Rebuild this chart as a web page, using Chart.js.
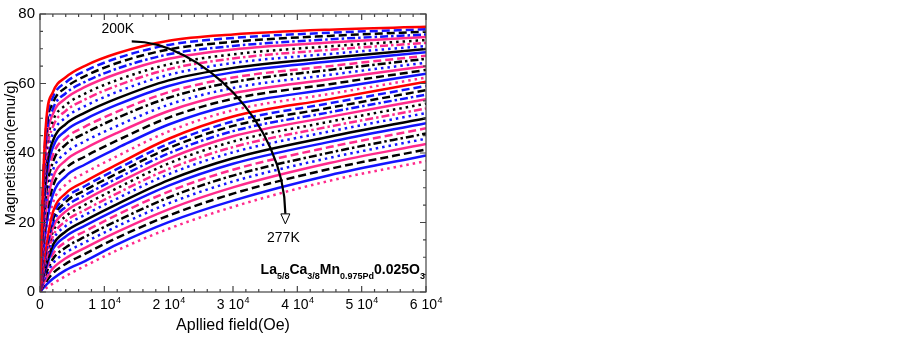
<!DOCTYPE html>
<html>
<head>
<meta charset="utf-8">
<script src="https://cdn.jsdelivr.net/npm/chart.js@4.4.1/dist/chart.umd.min.js"></script>
<style>
  html, body { margin: 0; padding: 0; background: #fff; }
</style>
</head>
<body>
<canvas id="chart" width="900" height="340"></canvas>
<script>
// applied field grid (Oe) shared by all isotherms
const FIELD_OE = [0, 500, 1000, 2000, 4000, 7000, 12000, 20000, 30000, 45000, 60000];

// magnetisation (emu/g), one isotherm per array, 200K at top -> 277K at bottom
const M01 = [0, 33.0, 50.0, 57.5, 61.8, 65.1, 68.7, 72.3, 74.1, 75.5, 76.3];
const M02 = [0, 31.9, 48.4, 56.0, 60.3, 63.6, 67.3, 71.1, 73.1, 74.6, 75.6];
const M03 = [0, 30.8, 46.8, 54.4, 58.8, 62.1, 65.9, 69.8, 72.0, 73.7, 74.9];
const M04 = [0, 29.5, 45.0, 52.7, 57.2, 60.5, 64.3, 68.4, 70.8, 72.7, 74.1];
const M05 = [0, 28.4, 43.4, 51.2, 55.7, 59.0, 62.8, 67.1, 69.8, 71.8, 73.4];
const M06 = [0, 27.0, 41.3, 49.2, 53.8, 57.1, 61.0, 65.5, 68.4, 70.7, 72.5];
const M07 = [0, 25.7, 39.5, 47.5, 52.1, 55.4, 59.4, 64.1, 67.2, 69.7, 71.7];
const M08 = [0, 24.3, 37.5, 45.5, 50.2, 53.5, 57.6, 62.5, 65.9, 68.5, 70.8];
const M09 = [0, 22.9, 35.4, 43.5, 48.3, 51.6, 55.7, 60.9, 64.5, 67.4, 69.9];
const M10 = [0, 21.4, 33.4, 41.6, 46.4, 49.7, 53.9, 59.3, 63.2, 66.3, 69.0];
const M11 = [0, 19.9, 31.1, 39.4, 44.3, 47.6, 51.9, 57.5, 61.7, 65.0, 68.0];
const M12 = [0, 18.4, 29.0, 37.4, 42.4, 45.7, 50.1, 55.9, 60.4, 63.9, 67.1];
const M13 = [0, 16.7, 26.5, 35.0, 40.0, 43.4, 47.8, 53.9, 58.7, 62.5, 66.0];
const M14 = [0, 15.1, 24.3, 32.8, 37.9, 41.3, 45.8, 52.1, 57.2, 61.2, 65.0];
const M15 = [0, 13.4, 21.7, 30.4, 35.6, 39.0, 43.6, 50.2, 55.6, 59.8, 63.9];
const M16 = [0, 11.6, 19.3, 28.0, 33.3, 36.7, 41.4, 48.2, 53.9, 58.4, 62.8];
const M17 = [0, 9.9, 16.7, 25.6, 30.9, 34.3, 39.1, 46.2, 52.3, 57.0, 61.7];
const M18 = [0, 8.0, 14.0, 23.0, 28.4, 31.8, 36.7, 44.1, 50.5, 55.5, 60.5];
const M19 = [0, 7.6, 13.3, 21.9, 27.1, 30.5, 35.4, 42.7, 49.1, 54.3, 59.3];
const M20 = [0, 7.2, 12.7, 20.8, 25.9, 29.3, 34.1, 41.4, 47.8, 53.0, 58.1];
const M21 = [0, 6.8, 11.9, 19.7, 24.5, 27.9, 32.7, 39.9, 46.3, 51.7, 56.8];
const M22 = [0, 6.4, 11.2, 18.5, 23.2, 26.5, 31.3, 38.4, 44.8, 50.4, 55.5];
const M23 = [0, 6.0, 10.5, 17.3, 21.8, 25.1, 29.9, 37.0, 43.3, 49.0, 54.2];
const M24 = [0, 5.5, 9.7, 16.0, 20.4, 23.6, 28.4, 35.4, 41.7, 47.6, 52.8];
const M25 = [0, 5.1, 8.9, 14.9, 19.0, 22.2, 26.9, 33.9, 40.2, 46.2, 51.5];
const M26 = [0, 4.6, 8.1, 13.5, 17.4, 20.6, 25.3, 32.2, 38.5, 44.7, 50.0];
const M27 = [0, 4.1, 7.3, 12.3, 16.0, 19.1, 23.8, 30.6, 36.9, 43.2, 48.6];
const M28 = [0, 3.6, 6.5, 10.9, 14.4, 17.5, 22.2, 28.9, 35.2, 41.7, 47.1];
const M29 = [0, 3.2, 5.6, 9.5, 12.8, 15.9, 20.5, 27.2, 33.5, 40.1, 45.6];
const M30 = [0, 2.7, 4.8, 8.2, 11.3, 14.3, 18.9, 25.5, 31.8, 38.6, 44.1];
const M31 = [0, 2.2, 4.0, 6.8, 9.7, 12.7, 17.3, 23.8, 30.1, 37.1, 42.6];
const M32 = [0, 1.7, 3.1, 5.4, 8.1, 11.0, 15.6, 22.0, 28.3, 35.4, 41.0];
const M33 = [0, 1.1, 2.1, 3.8, 6.3, 8.9, 13.7, 20.1, 26.3, 33.6, 39.3];
const M34 = [0, 0.6, 1.2, 2.4, 4.6, 7.5, 12.0, 18.2, 24.5, 32.0, 37.7];

const ISOTHERMS = [M01, M02, M03, M04, M05, M06, M07, M08, M09, M10, M11, M12,
  M13, M14, M15, M16, M17, M18, M19, M20, M21, M22, M23, M24, M25, M26, M27,
  M28, M29, M30, M31, M32, M33, M34];

const X_TICKS = [0, 10000, 20000, 30000, 40000, 50000, 60000];
const Y_TICKS = [0, 20, 40, 60, 80];

const FONT = "'Liberation Sans', Arial, sans-serif";
const RED = "#ff0000", BLUE = "#1414ff", BLACK = "#000000", PINK = "#ff2a8c";
const SOLID = [], DASH = [8, 4], DOT = [2.5, 4], DASHDOT = [8, 3, 2.5, 3];
const STYLE_CYCLE = [
  [RED, SOLID], [BLUE, DASH], [BLACK, DASH], [BLUE, DASHDOT], [PINK, SOLID],
  [BLACK, DOT], [PINK, DASHDOT], [BLUE, DOT], [BLACK, SOLID], [BLUE, SOLID],
  [PINK, DASH], [BLACK, DASHDOT], [BLUE, DOT], [PINK, SOLID], [BLACK, DASH],
  [BLUE, SOLID], [PINK, DOT],
];

const datasets = ISOTHERMS.map((vals, i) => {
  const [color, dash] = STYLE_CYCLE[i % STYLE_CYCLE.length];
  return {
    label: "curve " + (i + 1),
    data: FIELD_OE.map((h, k) => ({ x: h, y: vals[k] })),
    borderColor: color,
    borderDash: dash,
    borderWidth: 2.5,
    pointRadius: 0,
    cubicInterpolationMode: "monotone",
    fill: false,
  };
});

// frame, inward ticks, x labels with superscripts and the text/arrow annotations
const framePlugin = {
  id: "frame",
  afterDatasetsDraw(chart) {
    const { ctx, chartArea: a, scales } = chart;
    const x = scales.x, y = scales.y;
    ctx.save();
    ctx.strokeStyle = "#444";
    ctx.lineWidth = 1.2;
    ctx.setLineDash([]);
    ctx.strokeRect(a.left, a.top, a.right - a.left, a.bottom - a.top);

    ctx.beginPath();
    for (let v = 0; v <= 60000; v += 2000) {
      const px = x.getPixelForValue(v);
      const len = v % 10000 === 0 ? 6 : 3;
      ctx.moveTo(px, a.bottom); ctx.lineTo(px, a.bottom - len);
      ctx.moveTo(px, a.top); ctx.lineTo(px, a.top + len);
    }
    for (let v = 0; v <= 80; v += 5) {
      const py = y.getPixelForValue(v);
      const len = v % 20 === 0 ? 6 : 3;
      ctx.moveTo(a.left, py); ctx.lineTo(a.left + len, py);
      ctx.moveTo(a.right, py); ctx.lineTo(a.right - len, py);
    }
    ctx.stroke();

    // x tick labels "n 10^4"
    ctx.fillStyle = "#000";
    ctx.textBaseline = "alphabetic";
    ctx.textAlign = "left";
    const big = "14px " + FONT, sup = "9px " + FONT;
    X_TICKS.forEach((v) => {
      const px = x.getPixelForValue(v);
      const by = a.bottom + 17;
      if (v === 0) {
        ctx.font = big;
        ctx.fillText("0", px - ctx.measureText("0").width / 2, by);
        return;
      }
      const main = v / 10000 + " 10";
      ctx.font = big;
      const w1 = ctx.measureText(main).width;
      ctx.font = sup;
      const w2 = ctx.measureText("4").width;
      const sx = px - (w1 + w2) / 2;
      ctx.font = big;
      ctx.fillText(main, sx, by);
      ctx.font = sup;
      ctx.fillText("4", sx + w1 + 0.5, by - 6);
    });

    // temperature arrow
    const p = (h, m) => [x.getPixelForValue(h), y.getPixelForValue(m)];
    const p0 = p(14260, 72.1), p1 = p(24800, 72.1), p2 = p(37980, 49.0), p3 = p(38140, 22.5);
    ctx.strokeStyle = "#000";
    ctx.lineWidth = 2.2;
    ctx.beginPath();
    ctx.moveTo(p0[0], p0[1]);
    ctx.bezierCurveTo(p1[0], p1[1], p2[0], p2[1], p3[0], p3[1]);
    ctx.stroke();
    const tip = p(38140, 19.6);
    ctx.lineWidth = 1;
    ctx.beginPath();
    ctx.moveTo(tip[0], tip[1]);
    ctx.lineTo(tip[0] - 4.5, tip[1] - 10);
    ctx.lineTo(tip[0] + 4.5, tip[1] - 10);
    ctx.closePath();
    ctx.fillStyle = "#fff";
    ctx.fill();
    ctx.stroke();

    ctx.fillStyle = "#000";
    ctx.font = "14px " + FONT;
    ctx.textAlign = "center";
    ctx.textBaseline = "middle";
    const t1 = p(12100, 75.5);
    ctx.fillText("200K", t1[0], t1[1]);
    const t2 = p(37830, 15.5);
    ctx.fillText("277K", t2[0], t2[1]);

    // compound formula, right aligned on the frame
    const parts = [["La", 0], ["5/8", 1], ["Ca", 0], ["3/8", 1], ["Mn", 0],
      ["0.975Pd", 1], ["0.025O", 0], ["3", 1]];
    const fBig = "bold 14px " + FONT, fSmall = "bold 9px " + FONT;
    let total = 0;
    parts.forEach(([s, sub]) => { ctx.font = sub ? fSmall : fBig; total += ctx.measureText(s).width; });
    const base = p(60000, 5.1);
    let cx = base[0] - total - 1;
    ctx.textAlign = "left";
    ctx.textBaseline = "alphabetic";
    parts.forEach(([s, sub]) => {
      ctx.font = sub ? fSmall : fBig;
      ctx.fillText(s, cx, base[1] + (sub ? 5 : 0));
      cx += ctx.measureText(s).width;
    });
    ctx.restore();
  },
};

new Chart(document.getElementById("chart"), {
  type: "line",
  data: { datasets },
  options: {
    responsive: false,
    animation: false,
    layout: { padding: { top: 8, right: 474, bottom: 0, left: 0 } },
    plugins: { legend: { display: false }, tooltip: { enabled: false } },
    scales: {
      x: {
        type: "linear",
        min: 0,
        max: 60000,
        afterFit: (s) => { s.height = 48; },
        afterBuildTicks: (s) => { s.ticks = X_TICKS.map((v) => ({ value: v })); },
        grid: { display: false, drawTicks: false },
        border: { display: false },
        ticks: { display: false },
        title: {
          display: true,
          text: "Apllied field(Oe)",
          color: "#000",
          font: { family: FONT, size: 16 },
          padding: { top: 0, bottom: 5 },
        },
      },
      y: {
        min: 0,
        max: 80,
        afterFit: (s) => { s.width = 40; },
        afterBuildTicks: (s) => { s.ticks = Y_TICKS.map((v) => ({ value: v })); },
        grid: { display: false, drawTicks: false },
        border: { display: false },
        ticks: { padding: 5, color: "#000", font: { family: FONT, size: 15 } },
        title: {
          display: true,
          text: "Magnetisation(emu/g)",
          color: "#000",
          font: { family: FONT, size: 15 },
          padding: { top: 2, bottom: 0 },
        },
      },
    },
  },
  plugins: [framePlugin],
});
</script>
</body>
</html>
